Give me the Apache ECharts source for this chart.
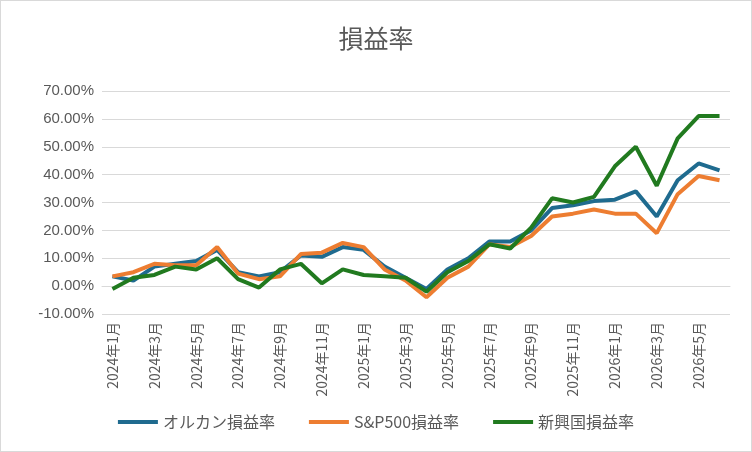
<!DOCTYPE html>
<html><head><meta charset="utf-8">
<script src="https://cdn.jsdelivr.net/npm/echarts@6/dist/echarts.min.js"></script>
<style>html,body{margin:0;padding:0;background:#fff}#c{width:750px;height:450px;border:1px solid #d9d9d9}</style>
</head><body><div id="c"></div>
<script>
var months = [];
for (var y = 2024; y <= 2026; y++) for (var m = 1; m <= 12; m++) if (!(y == 2026 && m > 6)) months.push(y + '年' + m + '月');
var orukan = [3.5,2,7,8,9,13,5,3.5,5,11,10.5,14,13,7,3,-1,6,10,16,16,20,28,29,30.5,31,34,25,38,44,41.5];
var sp500 = [3.5,5,8,7.5,7.5,14,4.5,2.5,3.5,11.5,12,15.5,14,6,2,-4,3,7,15,14,18,25,26,27.5,26,26,19,33,39.5,38];
var emerging = [-1,3,4,7,6,10,2.5,-0.5,6,8,1,6,4,3.5,3,-2,5,9,15,13.5,21,31.5,30,32,43,50,36,53,61,61];

var chart = echarts.init(document.getElementById('c'));
var font = 'Noto Sans CJK JP';
function line(name, data, color) {
  return { name: name, type: 'line', data: data, symbol: 'none', lineStyle: { width: 4, color: color }, itemStyle: { color: color } };
}
chart.setOption({
  textStyle: { fontFamily: font },
  title: { text: '損益率', left: 'center', top: 20, textStyle: { fontSize: 25, fontWeight: 'normal', color: '#595959', fontFamily: font } },
  legend: { bottom: 16, itemWidth: 40, itemHeight: 4, itemGap: 34, icon: 'rect', textStyle: { fontSize: 16, color: '#595959' } },
  grid: { left: 101, right: 21, top: 90, bottom: 137 },
  xAxis: {
    type: 'category', data: months, boundaryGap: true,
    axisLine: { lineStyle: { color: '#d9d9d9' } }, axisTick: { show: false },
    axisLabel: { rotate: 90, interval: 1, color: '#595959', fontSize: 14 }
  },
  yAxis: {
    type: 'value', min: -10, max: 70, interval: 10,
    axisLabel: { formatter: function (v) { return v.toFixed(2) + '%'; }, color: '#595959', fontSize: 15, fontFamily: 'Liberation Sans' },
    splitLine: { lineStyle: { color: '#d9d9d9' } }
  },
  series: [
    line('オルカン損益率', orukan, '#1f6b8f'),
    line('S&P500損益率', sp500, '#ed7d31'),
    line('新興国損益率', emerging, '#217a1f')
  ]
});
</script></body></html>
